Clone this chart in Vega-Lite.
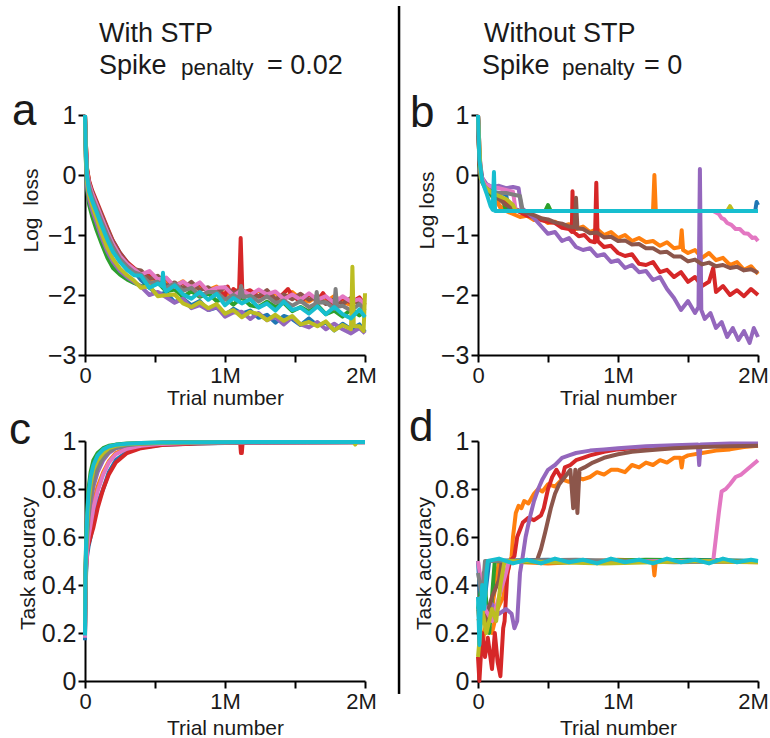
{
"$schema":"https://vega.github.io/schema/vega-lite/v6.json",
"background":"white",
"padding":{"left":8,"top":4,"right":5,"bottom":5},
"config":{
"view":{"stroke":null},
"font":"Liberation Sans",
"axis":{"domainColor":"black","domainWidth":2,"tickColor":"black","tickWidth":2,"tickSize":7,"labelFont":"Liberation Sans","labelFontSize":22,"labelColor":"#1a1a1a","labelPadding":3,"labelFlush":false,"labelOverlap":false,"titleFont":"Liberation Sans","titleFontSize":21,"titleFontWeight":"normal","titleColor":"#1a1a1a","grid":false},
"line":{"strokeWidth":4,"strokeJoin":"round"},
"text":{"font":"Liberation Sans","color":"#1a1a1a","align":"left","baseline":"alphabetic"}
},
"datasets":{
"a":[
{"r":"01","x":0,"y":1},{"r":"01","x":0.005,"y":0.5},{"r":"01","x":0.015,"y":0},{"r":"01","x":0.03,"y":-0.2},{"r":"01","x":0.05,"y":-0.35},{"r":"01","x":0.08,"y":-0.52},{"r":"01","x":0.12,"y":-0.75},{"r":"01","x":0.16,"y":-0.95},{"r":"01","x":0.2,"y":-1.1},{"r":"01","x":0.25,"y":-1.3},{"r":"01","x":0.3,"y":-1.45},{"r":"01","x":0.35,"y":-1.6},{"r":"01","x":0.4,"y":-1.75},{"r":"01","x":0.46,"y":-1.88},{"r":"01","x":0.52,"y":-1.99},{"r":"01","x":0.58,"y":-1.96},{"r":"01","x":0.64,"y":-2.12},{"r":"01","x":0.7,"y":-2.06},{"r":"01","x":0.76,"y":-2.17},{"r":"01","x":0.82,"y":-2.1},{"r":"01","x":0.88,"y":-2.25},{"r":"01","x":0.94,"y":-2.21},{"r":"01","x":1,"y":-2.33},{"r":"01","x":1.06,"y":-2.23},{"r":"01","x":1.12,"y":-2.31},{"r":"01","x":1.18,"y":-2.26},{"r":"01","x":1.24,"y":-2.38},{"r":"01","x":1.3,"y":-2.33},{"r":"01","x":1.36,"y":-2.46},{"r":"01","x":1.42,"y":-2.35},{"r":"01","x":1.48,"y":-2.4},{"r":"01","x":1.54,"y":-2.5},{"r":"01","x":1.6,"y":-2.39},{"r":"01","x":1.66,"y":-2.51},{"r":"01","x":1.72,"y":-2.46},{"r":"01","x":1.78,"y":-2.59},{"r":"01","x":1.84,"y":-2.48},{"r":"01","x":1.9,"y":-2.57},{"r":"01","x":1.96,"y":-2.49},{"r":"01","x":2,"y":-2.62},
{"r":"02","x":0,"y":1},{"r":"02","x":0.005,"y":0.6},{"r":"02","x":0.015,"y":0.1},{"r":"02","x":0.03,"y":-0.12},{"r":"02","x":0.05,"y":-0.28},{"r":"02","x":0.08,"y":-0.45},{"r":"02","x":0.12,"y":-0.7},{"r":"02","x":0.16,"y":-0.92},{"r":"02","x":0.2,"y":-1.12},{"r":"02","x":0.25,"y":-1.33},{"r":"02","x":0.3,"y":-1.47},{"r":"02","x":0.35,"y":-1.56},{"r":"02","x":0.4,"y":-1.62},{"r":"02","x":0.46,"y":-1.76},{"r":"02","x":0.52,"y":-1.69},{"r":"02","x":0.58,"y":-1.77},{"r":"02","x":0.64,"y":-1.85},{"r":"02","x":0.7,"y":-1.77},{"r":"02","x":0.76,"y":-1.91},{"r":"02","x":0.82,"y":-1.85},{"r":"02","x":0.88,"y":-1.92},{"r":"02","x":0.94,"y":-1.86},{"r":"02","x":1,"y":-2.01},{"r":"02","x":1.06,"y":-1.93},{"r":"02","x":1.12,"y":-1.92},{"r":"02","x":1.18,"y":-2.03},{"r":"02","x":1.24,"y":-1.92},{"r":"02","x":1.3,"y":-2.03},{"r":"02","x":1.36,"y":-1.97},{"r":"02","x":1.42,"y":-2.08},{"r":"02","x":1.48,"y":-1.95},{"r":"02","x":1.54,"y":-2.07},{"r":"02","x":1.6,"y":-2.11},{"r":"02","x":1.66,"y":-2.01},{"r":"02","x":1.72,"y":-2.12},{"r":"02","x":1.78,"y":-2.02},{"r":"02","x":1.84,"y":-2.11},{"r":"02","x":1.9,"y":-2.17},{"r":"02","x":1.96,"y":-2.07},{"r":"02","x":2,"y":-2.16},
{"r":"03","x":0,"y":1},{"r":"03","x":0.005,"y":0.3},{"r":"03","x":0.015,"y":-0.25},{"r":"03","x":0.03,"y":-0.5},{"r":"03","x":0.05,"y":-0.68},{"r":"03","x":0.08,"y":-0.9},{"r":"03","x":0.12,"y":-1.15},{"r":"03","x":0.16,"y":-1.38},{"r":"03","x":0.2,"y":-1.55},{"r":"03","x":0.25,"y":-1.66},{"r":"03","x":0.3,"y":-1.74},{"r":"03","x":0.35,"y":-1.8},{"r":"03","x":0.4,"y":-1.85},{"r":"03","x":0.46,"y":-1.86},{"r":"03","x":0.52,"y":-1.79},{"r":"03","x":0.58,"y":-1.94},{"r":"03","x":0.64,"y":-1.91},{"r":"03","x":0.7,"y":-2.03},{"r":"03","x":0.76,"y":-1.94},{"r":"03","x":0.82,"y":-2.03},{"r":"03","x":0.88,"y":-1.97},{"r":"03","x":0.94,"y":-2.1},{"r":"03","x":1,"y":-2.05},{"r":"03","x":1.06,"y":-2.16},{"r":"03","x":1.12,"y":-2.04},{"r":"03","x":1.18,"y":-2.17},{"r":"03","x":1.24,"y":-2.2},{"r":"03","x":1.3,"y":-2.11},{"r":"03","x":1.36,"y":-2.2},{"r":"03","x":1.42,"y":-2.13},{"r":"03","x":1.48,"y":-2.27},{"r":"03","x":1.54,"y":-2.2},{"r":"03","x":1.6,"y":-2.28},{"r":"03","x":1.66,"y":-2.17},{"r":"03","x":1.72,"y":-2.32},{"r":"03","x":1.78,"y":-2.26},{"r":"03","x":1.84,"y":-2.36},{"r":"03","x":1.9,"y":-2.24},{"r":"03","x":1.96,"y":-2.34},{"r":"03","x":2,"y":-2.27},
{"r":"04","x":0,"y":1},{"r":"04","x":0.005,"y":0.6},{"r":"04","x":0.015,"y":0.1},{"r":"04","x":0.03,"y":-0.1},{"r":"04","x":0.05,"y":-0.25},{"r":"04","x":0.08,"y":-0.42},{"r":"04","x":0.12,"y":-0.65},{"r":"04","x":0.16,"y":-0.88},{"r":"04","x":0.2,"y":-1.1},{"r":"04","x":0.25,"y":-1.3},{"r":"04","x":0.3,"y":-1.45},{"r":"04","x":0.35,"y":-1.55},{"r":"04","x":0.4,"y":-1.69},{"r":"04","x":0.46,"y":-1.67},{"r":"04","x":0.52,"y":-1.76},{"r":"04","x":0.58,"y":-1.72},{"r":"04","x":0.64,"y":-1.87},{"r":"04","x":0.7,"y":-1.8},{"r":"04","x":0.76,"y":-1.89},{"r":"04","x":0.82,"y":-1.81},{"r":"04","x":0.88,"y":-1.95},{"r":"04","x":0.94,"y":-1.9},{"r":"04","x":1,"y":-2.01},{"r":"04","x":1.02,"y":-1.86},{"r":"04","x":1.04,"y":-1.98},{"r":"04","x":1.06,"y":-1.9},{"r":"04","x":1.1,"y":-1.98},{"r":"04","x":1.112,"y":-1.05},{"r":"04","x":1.124,"y":-1.96},{"r":"04","x":1.18,"y":-1.92},{"r":"04","x":1.24,"y":-2.03},{"r":"04","x":1.3,"y":-1.97},{"r":"04","x":1.36,"y":-2.09},{"r":"04","x":1.42,"y":-1.97},{"r":"04","x":1.45,"y":-1.9},{"r":"04","x":1.48,"y":-2.01},{"r":"04","x":1.54,"y":-2.11},{"r":"04","x":1.6,"y":-1.99},{"r":"04","x":1.66,"y":-2.1},{"r":"04","x":1.7,"y":-1.97},{"r":"04","x":1.72,"y":-2.04},{"r":"04","x":1.78,"y":-2.16},{"r":"04","x":1.84,"y":-2.05},{"r":"04","x":1.9,"y":-2.13},{"r":"04","x":1.96,"y":-2.04},{"r":"04","x":2,"y":-2.17},
{"r":"05","x":0,"y":1},{"r":"05","x":0.005,"y":0.35},{"r":"05","x":0.015,"y":-0.2},{"r":"05","x":0.03,"y":-0.42},{"r":"05","x":0.05,"y":-0.58},{"r":"05","x":0.08,"y":-0.78},{"r":"05","x":0.12,"y":-1.05},{"r":"05","x":0.16,"y":-1.28},{"r":"05","x":0.2,"y":-1.45},{"r":"05","x":0.25,"y":-1.6},{"r":"05","x":0.3,"y":-1.7},{"r":"05","x":0.35,"y":-1.78},{"r":"05","x":0.4,"y":-1.86},{"r":"05","x":0.46,"y":-2},{"r":"05","x":0.52,"y":-1.95},{"r":"05","x":0.58,"y":-2.04},{"r":"05","x":0.64,"y":-2.13},{"r":"05","x":0.7,"y":-2.06},{"r":"05","x":0.76,"y":-2.22},{"r":"05","x":0.82,"y":-2.17},{"r":"05","x":0.88,"y":-2.25},{"r":"05","x":0.94,"y":-2.2},{"r":"05","x":1,"y":-2.36},{"r":"05","x":1.06,"y":-2.29},{"r":"05","x":1.12,"y":-2.28},{"r":"05","x":1.18,"y":-2.4},{"r":"05","x":1.24,"y":-2.3},{"r":"05","x":1.3,"y":-2.42},{"r":"05","x":1.36,"y":-2.37},{"r":"05","x":1.42,"y":-2.49},{"r":"05","x":1.48,"y":-2.37},{"r":"05","x":1.54,"y":-2.49},{"r":"05","x":1.6,"y":-2.54},{"r":"05","x":1.66,"y":-2.45},{"r":"05","x":1.72,"y":-2.57},{"r":"05","x":1.78,"y":-2.48},{"r":"05","x":1.84,"y":-2.57},{"r":"05","x":1.9,"y":-2.64},{"r":"05","x":1.96,"y":-2.55},{"r":"05","x":2,"y":-2.64},
{"r":"06","x":0,"y":1},{"r":"06","x":0.005,"y":0.58},{"r":"06","x":0.015,"y":0.08},{"r":"06","x":0.03,"y":-0.13},{"r":"06","x":0.05,"y":-0.28},{"r":"06","x":0.08,"y":-0.45},{"r":"06","x":0.12,"y":-0.68},{"r":"06","x":0.16,"y":-0.9},{"r":"06","x":0.2,"y":-1.12},{"r":"06","x":0.25,"y":-1.32},{"r":"06","x":0.3,"y":-1.47},{"r":"06","x":0.35,"y":-1.57},{"r":"06","x":0.4,"y":-1.59},{"r":"06","x":0.46,"y":-1.73},{"r":"06","x":0.52,"y":-1.68},{"r":"06","x":0.58,"y":-1.85},{"r":"06","x":0.64,"y":-1.79},{"r":"06","x":0.7,"y":-1.89},{"r":"06","x":0.76,"y":-1.78},{"r":"06","x":0.82,"y":-1.92},{"r":"06","x":0.88,"y":-1.87},{"r":"06","x":0.94,"y":-1.98},{"r":"06","x":1,"y":-1.87},{"r":"06","x":1.06,"y":-1.97},{"r":"06","x":1.12,"y":-1.91},{"r":"06","x":1.18,"y":-2.03},{"r":"06","x":1.24,"y":-2.02},{"r":"06","x":1.3,"y":-1.92},{"r":"06","x":1.36,"y":-2.07},{"r":"06","x":1.42,"y":-1.99},{"r":"06","x":1.48,"y":-2.07},{"r":"06","x":1.54,"y":-1.98},{"r":"06","x":1.6,"y":-2.08},{"r":"06","x":1.66,"y":-2.02},{"r":"06","x":1.72,"y":-2.15},{"r":"06","x":1.78,"y":-2.07},{"r":"06","x":1.84,"y":-2.15},{"r":"06","x":1.9,"y":-2.05},{"r":"06","x":1.96,"y":-2.15},{"r":"06","x":2,"y":-2.09},
{"r":"07","x":0,"y":1},{"r":"07","x":0.005,"y":0.55},{"r":"07","x":0.015,"y":0.05},{"r":"07","x":0.03,"y":-0.15},{"r":"07","x":0.05,"y":-0.3},{"r":"07","x":0.08,"y":-0.48},{"r":"07","x":0.12,"y":-0.72},{"r":"07","x":0.16,"y":-0.95},{"r":"07","x":0.2,"y":-1.15},{"r":"07","x":0.25,"y":-1.35},{"r":"07","x":0.3,"y":-1.48},{"r":"07","x":0.35,"y":-1.57},{"r":"07","x":0.4,"y":-1.66},{"r":"07","x":0.46,"y":-1.6},{"r":"07","x":0.52,"y":-1.74},{"r":"07","x":0.58,"y":-1.71},{"r":"07","x":0.64,"y":-1.86},{"r":"07","x":0.7,"y":-1.78},{"r":"07","x":0.76,"y":-1.87},{"r":"07","x":0.82,"y":-1.79},{"r":"07","x":0.88,"y":-1.94},{"r":"07","x":0.94,"y":-1.88},{"r":"07","x":1,"y":-1.87},{"r":"07","x":1.06,"y":-2.01},{"r":"07","x":1.12,"y":-1.92},{"r":"07","x":1.18,"y":-2},{"r":"07","x":1.24,"y":-1.91},{"r":"07","x":1.3,"y":-1.99},{"r":"07","x":1.36,"y":-1.94},{"r":"07","x":1.42,"y":-2.07},{"r":"07","x":1.48,"y":-1.99},{"r":"07","x":1.54,"y":-2.08},{"r":"07","x":1.6,"y":-1.97},{"r":"07","x":1.66,"y":-2.08},{"r":"07","x":1.72,"y":-2.02},{"r":"07","x":1.78,"y":-2.13},{"r":"07","x":1.84,"y":-2.02},{"r":"07","x":1.9,"y":-2.11},{"r":"07","x":1.96,"y":-2.07},{"r":"07","x":2,"y":-2.16},
{"r":"08","x":0,"y":1},{"r":"08","x":0.005,"y":0.5},{"r":"08","x":0.015,"y":0},{"r":"08","x":0.03,"y":-0.2},{"r":"08","x":0.05,"y":-0.36},{"r":"08","x":0.08,"y":-0.54},{"r":"08","x":0.12,"y":-0.78},{"r":"08","x":0.16,"y":-1},{"r":"08","x":0.2,"y":-1.2},{"r":"08","x":0.25,"y":-1.4},{"r":"08","x":0.3,"y":-1.52},{"r":"08","x":0.35,"y":-1.62},{"r":"08","x":0.4,"y":-1.66},{"r":"08","x":0.46,"y":-1.8},{"r":"08","x":0.52,"y":-1.78},{"r":"08","x":0.58,"y":-1.88},{"r":"08","x":0.64,"y":-1.81},{"r":"08","x":0.7,"y":-1.93},{"r":"08","x":0.76,"y":-1.88},{"r":"08","x":0.82,"y":-2.01},{"r":"08","x":0.88,"y":-1.95},{"r":"08","x":0.94,"y":-1.95},{"r":"08","x":1,"y":-2.08},{"r":"08","x":1.06,"y":-2},{"r":"08","x":1.1,"y":-2.06},{"r":"08","x":1.115,"y":-1.85},{"r":"08","x":1.13,"y":-2.04},{"r":"08","x":1.18,"y":-2.01},{"r":"08","x":1.24,"y":-2.11},{"r":"08","x":1.3,"y":-2.02},{"r":"08","x":1.36,"y":-2.13},{"r":"08","x":1.42,"y":-2.09},{"r":"08","x":1.48,"y":-2.18},{"r":"08","x":1.54,"y":-2.1},{"r":"08","x":1.6,"y":-2.2},{"r":"08","x":1.645,"y":-2.15},{"r":"08","x":1.655,"y":-1.95},{"r":"08","x":1.665,"y":-2.13},{"r":"08","x":1.72,"y":-2.12},{"r":"08","x":1.78,"y":-2.23},{"r":"08","x":1.79,"y":-1.9},{"r":"08","x":1.8,"y":-2.2},{"r":"08","x":1.84,"y":-2.18},{"r":"08","x":1.9,"y":-2.26},{"r":"08","x":1.96,"y":-2.15},{"r":"08","x":2,"y":-2.26},
{"r":"09","x":0,"y":1},{"r":"09","x":0.005,"y":0.4},{"r":"09","x":0.015,"y":-0.12},{"r":"09","x":0.03,"y":-0.35},{"r":"09","x":0.05,"y":-0.5},{"r":"09","x":0.08,"y":-0.7},{"r":"09","x":0.12,"y":-0.98},{"r":"09","x":0.16,"y":-1.22},{"r":"09","x":0.2,"y":-1.4},{"r":"09","x":0.25,"y":-1.56},{"r":"09","x":0.3,"y":-1.67},{"r":"09","x":0.35,"y":-1.76},{"r":"09","x":0.4,"y":-1.88},{"r":"09","x":0.46,"y":-1.85},{"r":"09","x":0.52,"y":-2.02},{"r":"09","x":0.58,"y":-2},{"r":"09","x":0.64,"y":-1.99},{"r":"09","x":0.7,"y":-2.14},{"r":"09","x":0.76,"y":-2.2},{"r":"09","x":0.82,"y":-2.12},{"r":"09","x":0.88,"y":-2.22},{"r":"09","x":0.94,"y":-2.15},{"r":"09","x":1,"y":-2.31},{"r":"09","x":1.06,"y":-2.25},{"r":"09","x":1.12,"y":-2.37},{"r":"09","x":1.18,"y":-2.28},{"r":"09","x":1.24,"y":-2.32},{"r":"09","x":1.3,"y":-2.42},{"r":"09","x":1.36,"y":-2.33},{"r":"09","x":1.42,"y":-2.43},{"r":"09","x":1.48,"y":-2.35},{"r":"09","x":1.54,"y":-2.49},{"r":"09","x":1.6,"y":-2.45},{"r":"09","x":1.66,"y":-2.52},{"r":"09","x":1.72,"y":-2.44},{"r":"09","x":1.78,"y":-2.59},{"r":"09","x":1.84,"y":-2.5},{"r":"09","x":1.9,"y":-2.57},{"r":"09","x":1.91,"y":-1.53},{"r":"09","x":1.92,"y":-2.52},{"r":"09","x":1.96,"y":-2.52},{"r":"09","x":1.99,"y":-2.6},{"r":"09","x":2,"y":-1.97},
{"r":"10","x":0,"y":1},{"r":"10","x":0.005,"y":0.45},{"r":"10","x":0.015,"y":-0.05},{"r":"10","x":0.03,"y":-0.28},{"r":"10","x":0.05,"y":-0.42},{"r":"10","x":0.08,"y":-0.6},{"r":"10","x":0.12,"y":-0.85},{"r":"10","x":0.16,"y":-1.08},{"r":"10","x":0.2,"y":-1.28},{"r":"10","x":0.25,"y":-1.45},{"r":"10","x":0.3,"y":-1.58},{"r":"10","x":0.35,"y":-1.67},{"r":"10","x":0.4,"y":-1.68},{"r":"10","x":0.46,"y":-1.88},{"r":"10","x":0.52,"y":-1.81},{"r":"10","x":0.55,"y":-1.85},{"r":"10","x":0.557,"y":-1.63},{"r":"10","x":0.565,"y":-1.88},{"r":"10","x":0.58,"y":-1.94},{"r":"10","x":0.64,"y":-1.84},{"r":"10","x":0.7,"y":-1.99},{"r":"10","x":0.76,"y":-2.06},{"r":"10","x":0.82,"y":-1.95},{"r":"10","x":0.88,"y":-2.08},{"r":"10","x":0.94,"y":-1.98},{"r":"10","x":1,"y":-2.17},{"r":"10","x":1.06,"y":-2.05},{"r":"10","x":1.12,"y":-2.14},{"r":"10","x":1.18,"y":-2.07},{"r":"10","x":1.24,"y":-2.21},{"r":"10","x":1.3,"y":-2.14},{"r":"10","x":1.36,"y":-2.26},{"r":"10","x":1.42,"y":-2.11},{"r":"10","x":1.48,"y":-2.25},{"r":"10","x":1.54,"y":-2.21},{"r":"10","x":1.6,"y":-2.31},{"r":"10","x":1.66,"y":-2.19},{"r":"10","x":1.72,"y":-2.32},{"r":"10","x":1.78,"y":-2.2},{"r":"10","x":1.84,"y":-2.32},{"r":"10","x":1.9,"y":-2.39},{"r":"10","x":1.96,"y":-2.24},{"r":"10","x":2,"y":-2.37}
],
"b":[
{"r":"00","x":0,"y":1},{"r":"00","x":0.01,"y":0.2},{"r":"00","x":0.03,"y":-0.1},{"r":"00","x":0.06,"y":-0.25},{"r":"00","x":0.1,"y":-0.35},{"r":"00","x":0.14,"y":-0.45},{"r":"00","x":0.17,"y":-0.6},{"r":"00","x":1.25,"y":-0.6},{"r":"00","x":1.26,"y":0},{"r":"00","x":1.27,"y":-0.6},{"r":"00","x":2,"y":-0.6},
{"r":"01","x":0,"y":1},{"r":"01","x":0.01,"y":0.2},{"r":"01","x":0.03,"y":-0.1},{"r":"01","x":0.06,"y":-0.2},{"r":"01","x":0.1,"y":-0.28},{"r":"01","x":0.15,"y":-0.3},{"r":"01","x":0.2,"y":-0.32},{"r":"01","x":0.22,"y":-0.58},{"r":"01","x":0.3,"y":-0.6},{"r":"01","x":1.98,"y":-0.6},{"r":"01","x":1.99,"y":-0.45},{"r":"01","x":2,"y":-0.5},
{"r":"02","x":0,"y":1},{"r":"02","x":0.01,"y":0.25},{"r":"02","x":0.03,"y":-0.05},{"r":"02","x":0.06,"y":-0.2},{"r":"02","x":0.1,"y":-0.35},{"r":"02","x":0.15,"y":-0.5},{"r":"02","x":0.2,"y":-0.6},{"r":"02","x":0.25,"y":-0.65},{"r":"02","x":0.3,"y":-0.7},{"r":"02","x":0.35,"y":-0.68},{"r":"02","x":0.4,"y":-0.75},{"r":"02","x":0.45,"y":-0.72},{"r":"02","x":0.5,"y":-0.8},{"r":"02","x":0.55,"y":-0.78},{"r":"02","x":0.6,"y":-0.85},{"r":"02","x":0.65,"y":-0.82},{"r":"02","x":0.7,"y":-0.9},{"r":"02","x":0.75,"y":-0.86},{"r":"02","x":0.8,"y":-0.95},{"r":"02","x":0.85,"y":-0.9},{"r":"02","x":0.9,"y":-1},{"r":"02","x":0.95,"y":-0.95},{"r":"02","x":1,"y":-1.05},{"r":"02","x":1.05,"y":-1},{"r":"02","x":1.1,"y":-1.1},{"r":"02","x":1.15,"y":-1.05},{"r":"02","x":1.2,"y":-1.12},{"r":"02","x":1.25,"y":-1.1},{"r":"02","x":1.3,"y":-1.18},{"r":"02","x":1.35,"y":-1.12},{"r":"02","x":1.4,"y":-1.22},{"r":"02","x":1.445,"y":-1.2},{"r":"02","x":1.455,"y":-0.92},{"r":"02","x":1.465,"y":-1.25},{"r":"02","x":1.5,"y":-1.3},{"r":"02","x":1.55,"y":-1.25},{"r":"02","x":1.6,"y":-1.38},{"r":"02","x":1.65,"y":-1.3},{"r":"02","x":1.7,"y":-1.42},{"r":"02","x":1.75,"y":-1.38},{"r":"02","x":1.8,"y":-1.5},{"r":"02","x":1.85,"y":-1.45},{"r":"02","x":1.9,"y":-1.58},{"r":"02","x":1.95,"y":-1.52},{"r":"02","x":2,"y":-1.65},
{"r":"03","x":0,"y":1},{"r":"03","x":0.01,"y":0.15},{"r":"03","x":0.03,"y":-0.12},{"r":"03","x":0.06,"y":-0.25},{"r":"03","x":0.1,"y":-0.35},{"r":"03","x":0.15,"y":-0.4},{"r":"03","x":0.18,"y":-0.42},{"r":"03","x":0.2,"y":-0.6},{"r":"03","x":0.48,"y":-0.6},{"r":"03","x":0.5,"y":-0.5},{"r":"03","x":0.52,"y":-0.6},{"r":"03","x":2,"y":-0.6},
{"r":"04","x":0,"y":1},{"r":"04","x":0.01,"y":0.2},{"r":"04","x":0.03,"y":-0.1},{"r":"04","x":0.06,"y":-0.2},{"r":"04","x":0.1,"y":-0.3},{"r":"04","x":0.15,"y":-0.35},{"r":"04","x":0.2,"y":-0.45},{"r":"04","x":0.25,"y":-0.55},{"r":"04","x":0.3,"y":-0.62},{"r":"04","x":0.35,"y":-0.68},{"r":"04","x":0.4,"y":-0.7},{"r":"04","x":0.45,"y":-0.75},{"r":"04","x":0.5,"y":-0.78},{"r":"04","x":0.55,"y":-0.8},{"r":"04","x":0.6,"y":-0.88},{"r":"04","x":0.65,"y":-0.9},{"r":"04","x":0.67,"y":-0.95},{"r":"04","x":0.675,"y":-0.27},{"r":"04","x":0.685,"y":-0.95},{"r":"04","x":0.72,"y":-1.02},{"r":"04","x":0.76,"y":-1},{"r":"04","x":0.8,"y":-1.1},{"r":"04","x":0.835,"y":-1.12},{"r":"04","x":0.845,"y":-0.13},{"r":"04","x":0.855,"y":-1.1},{"r":"04","x":0.9,"y":-1.2},{"r":"04","x":0.95,"y":-1.18},{"r":"04","x":1,"y":-1.3},{"r":"04","x":1.05,"y":-1.35},{"r":"04","x":1.1,"y":-1.32},{"r":"04","x":1.15,"y":-1.48},{"r":"04","x":1.2,"y":-1.5},{"r":"04","x":1.25,"y":-1.45},{"r":"04","x":1.3,"y":-1.62},{"r":"04","x":1.35,"y":-1.58},{"r":"04","x":1.4,"y":-1.7},{"r":"04","x":1.45,"y":-1.62},{"r":"04","x":1.5,"y":-1.78},{"r":"04","x":1.55,"y":-1.7},{"r":"04","x":1.6,"y":-1.85},{"r":"04","x":1.65,"y":-1.78},{"r":"04","x":1.68,"y":-1.55},{"r":"04","x":1.7,"y":-1.95},{"r":"04","x":1.75,"y":-1.85},{"r":"04","x":1.8,"y":-2},{"r":"04","x":1.85,"y":-1.92},{"r":"04","x":1.9,"y":-2.02},{"r":"04","x":1.95,"y":-1.9},{"r":"04","x":2,"y":-2},
{"r":"05","x":0,"y":1},{"r":"05","x":0.01,"y":0.3},{"r":"05","x":0.03,"y":-0.05},{"r":"05","x":0.06,"y":-0.15},{"r":"05","x":0.1,"y":-0.2},{"r":"05","x":0.15,"y":-0.18},{"r":"05","x":0.2,"y":-0.22},{"r":"05","x":0.25,"y":-0.2},{"r":"05","x":0.29,"y":-0.22},{"r":"05","x":0.31,"y":-0.55},{"r":"05","x":0.35,"y":-0.62},{"r":"05","x":0.4,"y":-0.72},{"r":"05","x":0.45,"y":-0.85},{"r":"05","x":0.5,"y":-0.98},{"r":"05","x":0.55,"y":-0.95},{"r":"05","x":0.6,"y":-1.1},{"r":"05","x":0.65,"y":-1.05},{"r":"05","x":0.7,"y":-1.2},{"r":"05","x":0.75,"y":-1.25},{"r":"05","x":0.8,"y":-1.22},{"r":"05","x":0.85,"y":-1.35},{"r":"05","x":0.9,"y":-1.32},{"r":"05","x":0.95,"y":-1.45},{"r":"05","x":1,"y":-1.42},{"r":"05","x":1.05,"y":-1.55},{"r":"05","x":1.1,"y":-1.5},{"r":"05","x":1.15,"y":-1.62},{"r":"05","x":1.2,"y":-1.6},{"r":"05","x":1.25,"y":-1.75},{"r":"05","x":1.3,"y":-1.7},{"r":"05","x":1.35,"y":-1.9},{"r":"05","x":1.4,"y":-2.05},{"r":"05","x":1.45,"y":-2.25},{"r":"05","x":1.5,"y":-2.1},{"r":"05","x":1.55,"y":-2.3},{"r":"05","x":1.575,"y":-2.2},{"r":"05","x":1.585,"y":0.1},{"r":"05","x":1.595,"y":-2.25},{"r":"05","x":1.62,"y":-2.4},{"r":"05","x":1.66,"y":-2.3},{"r":"05","x":1.7,"y":-2.55},{"r":"05","x":1.74,"y":-2.45},{"r":"05","x":1.78,"y":-2.7},{"r":"05","x":1.82,"y":-2.55},{"r":"05","x":1.86,"y":-2.75},{"r":"05","x":1.9,"y":-2.6},{"r":"05","x":1.94,"y":-2.8},{"r":"05","x":1.97,"y":-2.55},{"r":"05","x":2,"y":-2.7},
{"r":"06","x":0,"y":1},{"r":"06","x":0.01,"y":0.2},{"r":"06","x":0.03,"y":-0.1},{"r":"06","x":0.06,"y":-0.22},{"r":"06","x":0.1,"y":-0.3},{"r":"06","x":0.15,"y":-0.4},{"r":"06","x":0.2,"y":-0.5},{"r":"06","x":0.25,"y":-0.55},{"r":"06","x":0.3,"y":-0.6},{"r":"06","x":0.35,"y":-0.63},{"r":"06","x":0.4,"y":-0.67},{"r":"06","x":0.45,"y":-0.72},{"r":"06","x":0.5,"y":-0.74},{"r":"06","x":0.55,"y":-0.79},{"r":"06","x":0.6,"y":-0.81},{"r":"06","x":0.65,"y":-0.86},{"r":"06","x":0.69,"y":-0.87},{"r":"06","x":0.7,"y":-0.38},{"r":"06","x":0.71,"y":-0.89},{"r":"06","x":0.75,"y":-0.9},{"r":"06","x":0.8,"y":-0.97},{"r":"06","x":0.85,"y":-0.96},{"r":"06","x":0.9,"y":-1.04},{"r":"06","x":0.95,"y":-1.03},{"r":"06","x":1,"y":-1.1},{"r":"06","x":1.05,"y":-1.09},{"r":"06","x":1.1,"y":-1.16},{"r":"06","x":1.15,"y":-1.15},{"r":"06","x":1.2,"y":-1.22},{"r":"06","x":1.25,"y":-1.22},{"r":"06","x":1.3,"y":-1.29},{"r":"06","x":1.35,"y":-1.28},{"r":"06","x":1.4,"y":-1.36},{"r":"06","x":1.45,"y":-1.36},{"r":"06","x":1.5,"y":-1.44},{"r":"06","x":1.55,"y":-1.41},{"r":"06","x":1.6,"y":-1.49},{"r":"06","x":1.65,"y":-1.46},{"r":"06","x":1.7,"y":-1.52},{"r":"06","x":1.75,"y":-1.5},{"r":"06","x":1.8,"y":-1.55},{"r":"06","x":1.85,"y":-1.53},{"r":"06","x":1.9,"y":-1.59},{"r":"06","x":1.95,"y":-1.57},{"r":"06","x":2,"y":-1.63},
{"r":"07","x":0,"y":1},{"r":"07","x":0.02,"y":0},{"r":"07","x":0.05,"y":-0.15},{"r":"07","x":0.1,"y":-0.2},{"r":"07","x":0.15,"y":-0.22},{"r":"07","x":0.2,"y":-0.25},{"r":"07","x":0.25,"y":-0.28},{"r":"07","x":0.27,"y":-0.6},{"r":"07","x":1.68,"y":-0.6},{"r":"07","x":1.72,"y":-0.65},{"r":"07","x":1.74,"y":-0.72},{"r":"07","x":1.76,"y":-0.74},{"r":"07","x":1.78,"y":-0.8},{"r":"07","x":1.81,"y":-0.83},{"r":"07","x":1.84,"y":-0.9},{"r":"07","x":1.87,"y":-0.9},{"r":"07","x":1.9,"y":-0.97},{"r":"07","x":1.93,"y":-0.98},{"r":"07","x":1.96,"y":-1.05},{"r":"07","x":1.98,"y":-1.04},{"r":"07","x":2,"y":-1.1},
{"r":"08","x":0,"y":1},{"r":"08","x":0.02,"y":-0.05},{"r":"08","x":0.05,"y":-0.2},{"r":"08","x":0.1,"y":-0.3},{"r":"08","x":0.2,"y":-0.3},{"r":"08","x":0.3,"y":-0.35},{"r":"08","x":0.32,"y":-0.6},{"r":"08","x":2,"y":-0.6},
{"r":"09","x":0,"y":1},{"r":"09","x":0.02,"y":-0.05},{"r":"09","x":0.05,"y":-0.2},{"r":"09","x":0.1,"y":-0.3},{"r":"09","x":0.15,"y":-0.35},{"r":"09","x":0.2,"y":-0.4},{"r":"09","x":0.25,"y":-0.5},{"r":"09","x":0.27,"y":-0.6},{"r":"09","x":1.78,"y":-0.6},{"r":"09","x":1.8,"y":-0.52},{"r":"09","x":1.82,"y":-0.6},{"r":"09","x":2,"y":-0.6},
{"r":"10","x":0,"y":1},{"r":"10","x":0.01,"y":0.25},{"r":"10","x":0.03,"y":-0.1},{"r":"10","x":0.06,"y":-0.3},{"r":"10","x":0.09,"y":-0.52},{"r":"10","x":0.105,"y":-0.58},{"r":"10","x":0.114,"y":0.05},{"r":"10","x":0.122,"y":-0.6},{"r":"10","x":2,"y":-0.6}
],
"c":[
{"r":"01","x":0,"y":0.17},{"r":"01","x":0.003,"y":0.35},{"r":"01","x":0.008,"y":0.45},{"r":"01","x":0.015,"y":0.52},{"r":"01","x":0.025,"y":0.56},{"r":"01","x":0.04,"y":0.6},{"r":"01","x":0.06,"y":0.66},{"r":"01","x":0.09,"y":0.74},{"r":"01","x":0.13,"y":0.8},{"r":"01","x":0.17,"y":0.87},{"r":"01","x":0.22,"y":0.92},{"r":"01","x":0.3,"y":0.955},{"r":"01","x":0.4,"y":0.973},{"r":"01","x":0.55,"y":0.984},{"r":"01","x":0.8,"y":0.99},{"r":"01","x":1.2,"y":0.994},{"r":"01","x":2,"y":0.995},
{"r":"02","x":0,"y":0.19},{"r":"02","x":0.003,"y":0.38},{"r":"02","x":0.008,"y":0.49},{"r":"02","x":0.015,"y":0.55},{"r":"02","x":0.025,"y":0.61},{"r":"02","x":0.04,"y":0.67},{"r":"02","x":0.06,"y":0.74},{"r":"02","x":0.09,"y":0.81},{"r":"02","x":0.13,"y":0.87},{"r":"02","x":0.17,"y":0.915},{"r":"02","x":0.22,"y":0.95},{"r":"02","x":0.3,"y":0.97},{"r":"02","x":0.4,"y":0.981},{"r":"02","x":0.55,"y":0.988},{"r":"02","x":0.8,"y":0.993},{"r":"02","x":1.2,"y":0.995},{"r":"02","x":2,"y":0.996},
{"r":"03","x":0,"y":0.22},{"r":"03","x":0.003,"y":0.45},{"r":"03","x":0.008,"y":0.58},{"r":"03","x":0.015,"y":0.7},{"r":"03","x":0.025,"y":0.8},{"r":"03","x":0.04,"y":0.87},{"r":"03","x":0.06,"y":0.92},{"r":"03","x":0.09,"y":0.95},{"r":"03","x":0.13,"y":0.97},{"r":"03","x":0.17,"y":0.98},{"r":"03","x":0.22,"y":0.985},{"r":"03","x":0.3,"y":0.99},{"r":"03","x":0.4,"y":0.992},{"r":"03","x":0.55,"y":0.994},{"r":"03","x":0.8,"y":0.995},{"r":"03","x":1.2,"y":0.996},{"r":"03","x":2,"y":0.996},
{"r":"04","x":0,"y":0.2},{"r":"04","x":0.003,"y":0.38},{"r":"04","x":0.008,"y":0.48},{"r":"04","x":0.015,"y":0.54},{"r":"04","x":0.025,"y":0.57},{"r":"04","x":0.04,"y":0.6},{"r":"04","x":0.06,"y":0.64},{"r":"04","x":0.09,"y":0.72},{"r":"04","x":0.13,"y":0.8},{"r":"04","x":0.17,"y":0.86},{"r":"04","x":0.22,"y":0.91},{"r":"04","x":0.3,"y":0.95},{"r":"04","x":0.4,"y":0.97},{"r":"04","x":0.55,"y":0.983},{"r":"04","x":0.8,"y":0.99},{"r":"04","x":1.108,"y":0.994},{"r":"04","x":1.114,"y":0.95},{"r":"04","x":1.12,"y":0.95},{"r":"04","x":1.126,"y":0.994},{"r":"04","x":1.2,"y":0.994},{"r":"04","x":2,"y":0.995},
{"r":"05","x":0,"y":0.2},{"r":"05","x":0.003,"y":0.4},{"r":"05","x":0.008,"y":0.52},{"r":"05","x":0.015,"y":0.58},{"r":"05","x":0.025,"y":0.66},{"r":"05","x":0.04,"y":0.74},{"r":"05","x":0.06,"y":0.81},{"r":"05","x":0.09,"y":0.87},{"r":"05","x":0.13,"y":0.92},{"r":"05","x":0.17,"y":0.95},{"r":"05","x":0.22,"y":0.97},{"r":"05","x":0.3,"y":0.98},{"r":"05","x":0.4,"y":0.987},{"r":"05","x":0.55,"y":0.991},{"r":"05","x":0.8,"y":0.994},{"r":"05","x":1.2,"y":0.995},{"r":"05","x":2,"y":0.996},
{"r":"06","x":0,"y":0.21},{"r":"06","x":0.003,"y":0.42},{"r":"06","x":0.008,"y":0.55},{"r":"06","x":0.015,"y":0.63},{"r":"06","x":0.025,"y":0.72},{"r":"06","x":0.04,"y":0.8},{"r":"06","x":0.06,"y":0.86},{"r":"06","x":0.09,"y":0.91},{"r":"06","x":0.13,"y":0.94},{"r":"06","x":0.17,"y":0.96},{"r":"06","x":0.22,"y":0.975},{"r":"06","x":0.3,"y":0.985},{"r":"06","x":0.4,"y":0.99},{"r":"06","x":0.55,"y":0.993},{"r":"06","x":0.8,"y":0.995},{"r":"06","x":1.2,"y":0.996},{"r":"06","x":2,"y":0.996},
{"r":"07","x":0,"y":0.18},{"r":"07","x":0.003,"y":0.36},{"r":"07","x":0.008,"y":0.47},{"r":"07","x":0.015,"y":0.54},{"r":"07","x":0.025,"y":0.6},{"r":"07","x":0.04,"y":0.65},{"r":"07","x":0.06,"y":0.72},{"r":"07","x":0.09,"y":0.79},{"r":"07","x":0.13,"y":0.86},{"r":"07","x":0.17,"y":0.91},{"r":"07","x":0.22,"y":0.945},{"r":"07","x":0.3,"y":0.968},{"r":"07","x":0.4,"y":0.98},{"r":"07","x":0.55,"y":0.988},{"r":"07","x":0.8,"y":0.993},{"r":"07","x":1.2,"y":0.995},{"r":"07","x":2,"y":0.996},
{"r":"08","x":0,"y":0.2},{"r":"08","x":0.003,"y":0.41},{"r":"08","x":0.008,"y":0.53},{"r":"08","x":0.015,"y":0.6},{"r":"08","x":0.025,"y":0.68},{"r":"08","x":0.04,"y":0.76},{"r":"08","x":0.06,"y":0.83},{"r":"08","x":0.09,"y":0.89},{"r":"08","x":0.13,"y":0.93},{"r":"08","x":0.17,"y":0.955},{"r":"08","x":0.22,"y":0.972},{"r":"08","x":0.3,"y":0.982},{"r":"08","x":0.4,"y":0.988},{"r":"08","x":0.55,"y":0.992},{"r":"08","x":0.8,"y":0.994},{"r":"08","x":1.2,"y":0.995},{"r":"08","x":2,"y":0.996},
{"r":"09","x":0,"y":0.24},{"r":"09","x":0.003,"y":0.43},{"r":"09","x":0.008,"y":0.55},{"r":"09","x":0.015,"y":0.65},{"r":"09","x":0.025,"y":0.74},{"r":"09","x":0.04,"y":0.82},{"r":"09","x":0.06,"y":0.88},{"r":"09","x":0.09,"y":0.92},{"r":"09","x":0.13,"y":0.95},{"r":"09","x":0.17,"y":0.97},{"r":"09","x":0.22,"y":0.98},{"r":"09","x":0.3,"y":0.987},{"r":"09","x":0.4,"y":0.99},{"r":"09","x":0.55,"y":0.993},{"r":"09","x":0.8,"y":0.995},{"r":"09","x":1.2,"y":0.996},{"r":"09","x":1.92,"y":0.996},{"r":"09","x":1.93,"y":0.985},{"r":"09","x":1.94,"y":0.996},{"r":"09","x":2,"y":0.996},
{"r":"10","x":0,"y":0.19},{"r":"10","x":0.003,"y":0.44},{"r":"10","x":0.008,"y":0.57},{"r":"10","x":0.015,"y":0.68},{"r":"10","x":0.025,"y":0.78},{"r":"10","x":0.04,"y":0.85},{"r":"10","x":0.06,"y":0.9},{"r":"10","x":0.09,"y":0.94},{"r":"10","x":0.13,"y":0.965},{"r":"10","x":0.17,"y":0.977},{"r":"10","x":0.22,"y":0.984},{"r":"10","x":0.3,"y":0.989},{"r":"10","x":0.4,"y":0.992},{"r":"10","x":0.55,"y":0.994},{"r":"10","x":0.8,"y":0.995},{"r":"10","x":1.2,"y":0.996},{"r":"10","x":2,"y":0.996}
],
"d":[
{"r":"00","x":0,"y":0.25},{"r":"00","x":0.05,"y":0.3},{"r":"00","x":0.1,"y":0.3},{"r":"00","x":0.15,"y":0.5},{"r":"00","x":0.5,"y":0.49},{"r":"00","x":1,"y":0.505},{"r":"00","x":1.25,"y":0.5},{"r":"00","x":1.26,"y":0.44},{"r":"00","x":1.27,"y":0.5},{"r":"00","x":2,"y":0.495},
{"r":"01","x":0,"y":0.5},{"r":"01","x":0.02,"y":0.3},{"r":"01","x":0.05,"y":0.35},{"r":"01","x":0.08,"y":0.5},{"r":"01","x":0.5,"y":0.505},{"r":"01","x":1,"y":0.495},{"r":"01","x":1.5,"y":0.505},{"r":"01","x":2,"y":0.5},
{"r":"02","x":0,"y":0.3},{"r":"02","x":0.03,"y":0.15},{"r":"02","x":0.06,"y":0.25},{"r":"02","x":0.1,"y":0.2},{"r":"02","x":0.14,"y":0.3},{"r":"02","x":0.18,"y":0.35},{"r":"02","x":0.21,"y":0.45},{"r":"02","x":0.23,"y":0.5},{"r":"02","x":0.24,"y":0.52},{"r":"02","x":0.25,"y":0.6},{"r":"02","x":0.27,"y":0.7},{"r":"02","x":0.29,"y":0.73},{"r":"02","x":0.31,"y":0.72},{"r":"02","x":0.33,"y":0.75},{"r":"02","x":0.36,"y":0.74},{"r":"02","x":0.4,"y":0.78},{"r":"02","x":0.43,"y":0.8},{"r":"02","x":0.46,"y":0.79},{"r":"02","x":0.5,"y":0.82},{"r":"02","x":0.55,"y":0.81},{"r":"02","x":0.6,"y":0.84},{"r":"02","x":0.65,"y":0.83},{"r":"02","x":0.7,"y":0.85},{"r":"02","x":0.75,"y":0.84},{"r":"02","x":0.8,"y":0.85},{"r":"02","x":0.85,"y":0.87},{"r":"02","x":0.9,"y":0.86},{"r":"02","x":0.95,"y":0.88},{"r":"02","x":1,"y":0.88},{"r":"02","x":1.05,"y":0.87},{"r":"02","x":1.1,"y":0.9},{"r":"02","x":1.15,"y":0.89},{"r":"02","x":1.2,"y":0.91},{"r":"02","x":1.25,"y":0.9},{"r":"02","x":1.3,"y":0.92},{"r":"02","x":1.35,"y":0.91},{"r":"02","x":1.4,"y":0.93},{"r":"02","x":1.445,"y":0.93},{"r":"02","x":1.455,"y":0.89},{"r":"02","x":1.465,"y":0.93},{"r":"02","x":1.5,"y":0.94},{"r":"02","x":1.6,"y":0.95},{"r":"02","x":1.7,"y":0.96},{"r":"02","x":1.8,"y":0.965},{"r":"02","x":1.9,"y":0.975},{"r":"02","x":2,"y":0.98},
{"r":"03","x":0,"y":0.3},{"r":"03","x":0.04,"y":0.45},{"r":"03","x":0.08,"y":0.2},{"r":"03","x":0.1,"y":0.35},{"r":"03","x":0.12,"y":0.5},{"r":"03","x":0.6,"y":0.495},{"r":"03","x":1.2,"y":0.505},{"r":"03","x":2,"y":0.5},
{"r":"04","x":0,"y":0.1},{"r":"04","x":0.01,"y":0},{"r":"04","x":0.03,"y":0.2},{"r":"04","x":0.05,"y":0.1},{"r":"04","x":0.07,"y":0.18},{"r":"04","x":0.1,"y":0.05},{"r":"04","x":0.12,"y":0.2},{"r":"04","x":0.14,"y":0.08},{"r":"04","x":0.16,"y":0.02},{"r":"04","x":0.18,"y":0.22},{"r":"04","x":0.19,"y":0.25},{"r":"04","x":0.21,"y":0.45},{"r":"04","x":0.23,"y":0.5},{"r":"04","x":0.26,"y":0.52},{"r":"04","x":0.28,"y":0.6},{"r":"04","x":0.3,"y":0.63},{"r":"04","x":0.32,"y":0.66},{"r":"04","x":0.36,"y":0.68},{"r":"04","x":0.4,"y":0.67},{"r":"04","x":0.45,"y":0.69},{"r":"04","x":0.47,"y":0.72},{"r":"04","x":0.5,"y":0.8},{"r":"04","x":0.53,"y":0.85},{"r":"04","x":0.56,"y":0.88},{"r":"04","x":0.6,"y":0.84},{"r":"04","x":0.62,"y":0.89},{"r":"04","x":0.66,"y":0.9},{"r":"04","x":0.7,"y":0.92},{"r":"04","x":0.75,"y":0.93},{"r":"04","x":0.8,"y":0.94},{"r":"04","x":0.9,"y":0.955},{"r":"04","x":1,"y":0.965},{"r":"04","x":1.2,"y":0.975},{"r":"04","x":1.5,"y":0.98},{"r":"04","x":2,"y":0.985},
{"r":"05","x":0,"y":0.35},{"r":"05","x":0.05,"y":0.3},{"r":"05","x":0.1,"y":0.32},{"r":"05","x":0.15,"y":0.28},{"r":"05","x":0.2,"y":0.3},{"r":"05","x":0.24,"y":0.28},{"r":"05","x":0.26,"y":0.22},{"r":"05","x":0.28,"y":0.25},{"r":"05","x":0.3,"y":0.45},{"r":"05","x":0.32,"y":0.52},{"r":"05","x":0.34,"y":0.6},{"r":"05","x":0.37,"y":0.68},{"r":"05","x":0.4,"y":0.75},{"r":"05","x":0.43,"y":0.8},{"r":"05","x":0.46,"y":0.84},{"r":"05","x":0.5,"y":0.88},{"r":"05","x":0.55,"y":0.9},{"r":"05","x":0.6,"y":0.93},{"r":"05","x":0.65,"y":0.94},{"r":"05","x":0.7,"y":0.95},{"r":"05","x":0.8,"y":0.96},{"r":"05","x":0.9,"y":0.965},{"r":"05","x":1,"y":0.97},{"r":"05","x":1.2,"y":0.978},{"r":"05","x":1.4,"y":0.982},{"r":"05","x":1.57,"y":0.985},{"r":"05","x":1.58,"y":0.9},{"r":"05","x":1.59,"y":0.985},{"r":"05","x":1.8,"y":0.99},{"r":"05","x":2,"y":0.99},
{"r":"06","x":0,"y":0.3},{"r":"06","x":0.05,"y":0.25},{"r":"06","x":0.1,"y":0.35},{"r":"06","x":0.15,"y":0.42},{"r":"06","x":0.17,"y":0.5},{"r":"06","x":0.42,"y":0.5},{"r":"06","x":0.45,"y":0.55},{"r":"06","x":0.48,"y":0.62},{"r":"06","x":0.52,"y":0.72},{"r":"06","x":0.55,"y":0.78},{"r":"06","x":0.58,"y":0.82},{"r":"06","x":0.62,"y":0.85},{"r":"06","x":0.66,"y":0.88},{"r":"06","x":0.68,"y":0.72},{"r":"06","x":0.695,"y":0.88},{"r":"06","x":0.71,"y":0.7},{"r":"06","x":0.725,"y":0.88},{"r":"06","x":0.76,"y":0.89},{"r":"06","x":0.82,"y":0.91},{"r":"06","x":0.9,"y":0.93},{"r":"06","x":1,"y":0.945},{"r":"06","x":1.1,"y":0.955},{"r":"06","x":1.2,"y":0.96},{"r":"06","x":1.4,"y":0.97},{"r":"06","x":1.6,"y":0.975},{"r":"06","x":1.8,"y":0.978},{"r":"06","x":2,"y":0.98},
{"r":"07","x":0,"y":0.5},{"r":"07","x":0.05,"y":0.3},{"r":"07","x":0.1,"y":0.25},{"r":"07","x":0.15,"y":0.35},{"r":"07","x":0.2,"y":0.45},{"r":"07","x":0.22,"y":0.5},{"r":"07","x":1,"y":0.5},{"r":"07","x":1.68,"y":0.5},{"r":"07","x":1.7,"y":0.6},{"r":"07","x":1.72,"y":0.7},{"r":"07","x":1.74,"y":0.79},{"r":"07","x":1.77,"y":0.8},{"r":"07","x":1.8,"y":0.82},{"r":"07","x":1.84,"y":0.85},{"r":"07","x":1.88,"y":0.86},{"r":"07","x":1.92,"y":0.88},{"r":"07","x":1.96,"y":0.9},{"r":"07","x":2,"y":0.92},
{"r":"08","x":0,"y":0.45},{"r":"08","x":0.03,"y":0.35},{"r":"08","x":0.05,"y":0.5},{"r":"08","x":0.7,"y":0.505},{"r":"08","x":1.4,"y":0.495},{"r":"08","x":2,"y":0.5},
{"r":"09","x":0,"y":0.1},{"r":"09","x":0.03,"y":0.3},{"r":"09","x":0.06,"y":0.2},{"r":"09","x":0.1,"y":0.3},{"r":"09","x":0.13,"y":0.25},{"r":"09","x":0.16,"y":0.4},{"r":"09","x":0.19,"y":0.5},{"r":"09","x":0.9,"y":0.49},{"r":"09","x":1.6,"y":0.5},{"r":"09","x":2,"y":0.495},
{"r":"10","x":0,"y":0.35},{"r":"10","x":0.01,"y":0.15},{"r":"10","x":0.02,"y":0.3},{"r":"10","x":0.03,"y":0.4},{"r":"10","x":0.045,"y":0.3},{"r":"10","x":0.06,"y":0.45},{"r":"10","x":0.07,"y":0.5},{"r":"10","x":0.15,"y":0.51},{"r":"10","x":0.25,"y":0.49},{"r":"10","x":0.35,"y":0.505},{"r":"10","x":0.45,"y":0.49},{"r":"10","x":0.55,"y":0.51},{"r":"10","x":0.65,"y":0.495},{"r":"10","x":0.75,"y":0.505},{"r":"10","x":0.85,"y":0.49},{"r":"10","x":0.95,"y":0.51},{"r":"10","x":1.05,"y":0.495},{"r":"10","x":1.15,"y":0.505},{"r":"10","x":1.25,"y":0.49},{"r":"10","x":1.35,"y":0.51},{"r":"10","x":1.45,"y":0.495},{"r":"10","x":1.55,"y":0.505},{"r":"10","x":1.65,"y":0.49},{"r":"10","x":1.75,"y":0.51},{"r":"10","x":1.85,"y":0.495},{"r":"10","x":1.95,"y":0.505},{"r":"10","x":2,"y":0.5}
]
},
"columns":2,
"spacing":{"row":86,"column":113},
"bounds":"flush",
"concat":[
{"width":280,"height":240,"layer":[
{"data":{"name":"a"},"mark":{"type":"line"},"encoding":{
"x":{"field":"x","type":"quantitative","scale":{"domain":[0,2],"nice":false},"axis":{"values":[0,0.5,1,1.5,2],"labelExpr":"datum.value === 0 ? '0' : datum.value === 1 ? '1M' : datum.value === 2 ? '2M' : ''","labelOffset":{"condition":{"test":"datum.value === 2","value":-4},"value":0},"title":"Trial number","titleY":49,"titleBaseline":"alphabetic"}},
"y":{"field":"y","type":"quantitative","scale":{"domain":[-3,1],"nice":false,"zero":false},"axis":{"values":[-3,-2,-1,0,1],"format":"d","labelFontSize":25,"labelPadding":2,"title":"Log\u00a0\u00a0loss","titleX":-54,"titleY":95,"titleBaseline":"middle"}},
"color":{"field":"r","type":"nominal","scale":{"domain":["00","01","02","03","04","05","06","07","08","09","10"],"range":["#ff7f0e","#1f77b4","#ff7f0e","#2ca02c","#d62728","#9467bd","#8c564b","#e377c2","#7f7f7f","#bcbd22","#17becf"]},"legend":null}}},
{"data":{"values":[{}]},"mark":{"type":"text","text":"a","fontSize":44},"encoding":{"x":{"datum":-0.521},"y":{"datum":0.833}}},
{"data":{"values":[{}]},"mark":{"type":"text","text":"With STP","fontSize":27},"encoding":{"x":{"datum":0.1},"y":{"datum":2.217}}},
{"data":{"values":[{}]},"mark":{"type":"text","text":"Spike","fontSize":27},"encoding":{"x":{"datum":0.1},"y":{"datum":1.683}}},
{"data":{"values":[{}]},"mark":{"type":"text","text":"penalty","fontSize":22.5},"encoding":{"x":{"datum":0.686},"y":{"datum":1.67}}},
{"data":{"values":[{}]},"mark":{"type":"text","text":"= 0.02","fontSize":27},"encoding":{"x":{"datum":1.3},"y":{"datum":1.683}}}
]},
{"width":280,"height":240,"layer":[
{"data":{"name":"b"},"mark":{"type":"line"},"encoding":{
"x":{"field":"x","type":"quantitative","scale":{"domain":[0,2],"nice":false},"axis":{"values":[0,0.5,1,1.5,2],"labelExpr":"datum.value === 0 ? '0' : datum.value === 1 ? '1M' : datum.value === 2 ? '2M' : ''","labelOffset":{"condition":{"test":"datum.value === 2","value":-5},"value":0},"title":"Trial number","titleY":49,"titleBaseline":"alphabetic"}},
"y":{"field":"y","type":"quantitative","scale":{"domain":[-3,1],"nice":false,"zero":false},"axis":{"values":[-3,-2,-1,0,1],"format":"d","labelFontSize":25,"labelPadding":2,"title":"Log loss","titleX":-51,"titleY":95,"titleBaseline":"middle"}},
"color":{"field":"r","type":"nominal","scale":{"domain":["00","01","02","03","04","05","06","07","08","09","10"],"range":["#ff7f0e","#1f77b4","#ff7f0e","#2ca02c","#d62728","#9467bd","#8c564b","#e377c2","#7f7f7f","#bcbd22","#17becf"]},"legend":null}}},
{"data":{"values":[{}]},"mark":{"type":"rule","strokeWidth":2.5,"color":"black"},"encoding":{"x":{"datum":-0.564},"y":{"datum":2.817},"y2":{"datum":-4.433}}},
{"data":{"values":[{}]},"mark":{"type":"text","text":"b","fontSize":44},"encoding":{"x":{"datum":-0.486},"y":{"datum":0.8}}},
{"data":{"values":[{}]},"mark":{"type":"text","text":"Without STP","fontSize":27},"encoding":{"x":{"datum":0.043},"y":{"datum":2.217}}},
{"data":{"values":[{}]},"mark":{"type":"text","text":"Spike","fontSize":27},"encoding":{"x":{"datum":0.029},"y":{"datum":1.683}}},
{"data":{"values":[{}]},"mark":{"type":"text","text":"penalty","fontSize":22.5},"encoding":{"x":{"datum":0.6},"y":{"datum":1.67}}},
{"data":{"values":[{}]},"mark":{"type":"text","text":"= 0","fontSize":27},"encoding":{"x":{"datum":1.186},"y":{"datum":1.683}}}
]},
{"width":280,"height":240,"layer":[
{"data":{"name":"c"},"mark":{"type":"line"},"encoding":{
"x":{"field":"x","type":"quantitative","scale":{"domain":[0,2],"nice":false},"axis":{"values":[0,0.5,1,1.5,2],"labelExpr":"datum.value === 0 ? '0' : datum.value === 1 ? '1M' : datum.value === 2 ? '2M' : ''","labelOffset":{"condition":{"test":"datum.value === 2","value":-4},"value":0},"title":"Trial number","titleY":53,"titleBaseline":"alphabetic"}},
"y":{"field":"y","type":"quantitative","scale":{"domain":[0,1],"nice":false},"axis":{"values":[0,0.2,0.4,0.6,0.8,1],"format":"~g","labelFontSize":25,"labelPadding":2,"title":"Task accuracy","titleX":-57,"titleY":122,"titleBaseline":"middle"}},
"color":{"field":"r","type":"nominal","scale":{"domain":["00","01","02","03","04","05","06","07","08","09","10"],"range":["#ff7f0e","#1f77b4","#ff7f0e","#2ca02c","#d62728","#9467bd","#8c564b","#e377c2","#7f7f7f","#bcbd22","#17becf"]},"legend":null}}},
{"data":{"values":[{}]},"mark":{"type":"text","text":"c","fontSize":44},"encoding":{"x":{"datum":-0.543},"y":{"datum":0.9875}}}
]},
{"width":280,"height":240,"layer":[
{"data":{"name":"d"},"mark":{"type":"line"},"encoding":{
"x":{"field":"x","type":"quantitative","scale":{"domain":[0,2],"nice":false},"axis":{"values":[0,0.5,1,1.5,2],"labelExpr":"datum.value === 0 ? '0' : datum.value === 1 ? '1M' : datum.value === 2 ? '2M' : ''","labelOffset":{"condition":{"test":"datum.value === 2","value":-5},"value":0},"title":"Trial number","titleY":53,"titleBaseline":"alphabetic"}},
"y":{"field":"y","type":"quantitative","scale":{"domain":[0,1],"nice":false},"axis":{"values":[0,0.2,0.4,0.6,0.8,1],"format":"~g","labelFontSize":25,"labelPadding":2,"title":"Task accuracy","titleX":-54,"titleY":122,"titleBaseline":"middle"}},
"color":{"field":"r","type":"nominal","scale":{"domain":["00","01","02","03","04","05","06","07","08","09","10"],"range":["#ff7f0e","#1f77b4","#ff7f0e","#2ca02c","#d62728","#9467bd","#8c564b","#e377c2","#7f7f7f","#bcbd22","#17becf"]},"legend":null}}},
{"data":{"values":[{}]},"mark":{"type":"rule","strokeWidth":2.5,"color":"black"},"encoding":{"x":{"datum":-0.564},"y":{"datum":1},"y2":{"datum":-0.054}}},
{"data":{"values":[{}]},"mark":{"type":"text","text":"d","fontSize":44},"encoding":{"x":{"datum":-0.493},"y":{"datum":1.0}}}
]}
]
}
